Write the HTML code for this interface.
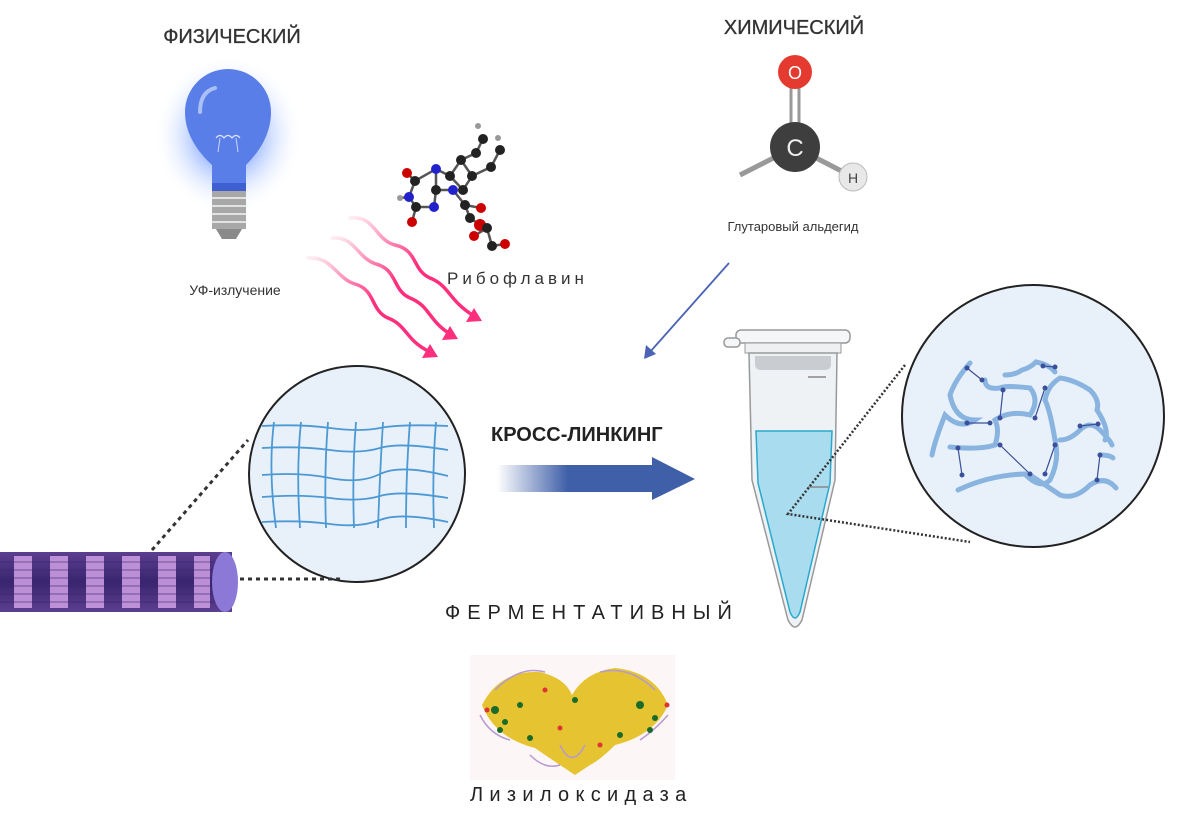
<!DOCTYPE html>
<html><head><meta charset="utf-8"><style>
html,body{margin:0;padding:0;background:#fff;}
svg{display:block;}
text{font-family:"Liberation Sans",sans-serif;}
</style></head><body>
<svg width="1191" height="818" viewBox="0 0 1191 818" xmlns="http://www.w3.org/2000/svg">
<defs>
<radialGradient id="glow" cx="0.5" cy="0.5" r="0.5">
<stop offset="0.4" stop-color="#8fb0ff" stop-opacity="0.8"/>
<stop offset="1" stop-color="#ffffff" stop-opacity="0"/>
</radialGradient>
<linearGradient id="arr" x1="0" x2="1" y1="0" y2="0">
<stop offset="0" stop-color="#3f5fa8" stop-opacity="0"/>
<stop offset="0.45" stop-color="#3f5fa8"/>
<stop offset="1" stop-color="#3f5fa8"/>
</linearGradient>
<linearGradient id="pink" x1="0" x2="1" y1="0" y2="1">
<stop offset="0" stop-color="#ff4d8f" stop-opacity="0.1"/>
<stop offset="0.5" stop-color="#ff2f7e"/>
<stop offset="1" stop-color="#ff2f7e"/>
</linearGradient>
<linearGradient id="fib" x1="0" x2="0" y1="0" y2="1">
<stop offset="0" stop-color="#5c3f8f"/><stop offset="0.5" stop-color="#3a2570"/><stop offset="1" stop-color="#5c3f8f"/>
</linearGradient>
</defs>

<!-- Titles -->
<text x="232" y="43" font-size="20" fill="#333" text-anchor="middle" stroke="#333" stroke-width="0.3">ФИЗИЧЕСКИЙ</text>
<text x="794" y="34" font-size="20" fill="#333" text-anchor="middle" stroke="#333" stroke-width="0.3">ХИМИЧЕСКИЙ</text>

<!-- bulb -->
<ellipse cx="228" cy="135" rx="75" ry="80" fill="url(#glow)"/>
<path d="M212,188 L212,165 Q185,140 185,112 A43,43 0 0 1 271,112 Q271,140 246,165 L246,188 Z" fill="#5a7ee8"/>
<rect x="212" y="183" width="34" height="8" fill="#3d5fd0"/>
<path d="M200,112 Q200,92 215,88" stroke="#a9bff5" stroke-width="4" fill="none" stroke-linecap="round"/>
<path d="M218,152 L220,138 M238,152 L236,138" stroke="#c8d4ff" stroke-width="1"/>
<path d="M216,138 q4,-5 8,0 q4,-5 8,0 q4,-5 8,0" stroke="#dde4ff" stroke-width="1.2" fill="none"/>
<rect x="212" y="191" width="34" height="38" fill="#a8a8a8"/>
<g stroke="#e2e2e2" stroke-width="2"><line x1="212" y1="198" x2="246" y2="198"/><line x1="212" y1="206" x2="246" y2="206"/><line x1="212" y1="214" x2="246" y2="214"/><line x1="212" y1="222" x2="246" y2="222"/></g>
<path d="M216,229 L242,229 L236,239 L222,239 Z" fill="#8a8a8a"/>
<text x="235" y="295" font-size="14" fill="#333" text-anchor="middle">УФ-излучение</text>

<!-- wavy arrows -->
<g fill="none" stroke="url(#pink)" stroke-width="3.5" stroke-linecap="round">
<path d="M350,218 C375,215 375,240 395,245 C418,250 412,270 430,278 C450,286 448,300 474,316"/>
<path d="M332,238 C355,236 357,258 376,264 C398,270 392,290 410,298 C430,306 428,320 450,334"/>
<path d="M308,258 C332,256 336,278 355,284 C376,290 370,310 388,318 C408,326 405,340 430,352"/>
</g>
<g fill="#ff2f7e">
<polygon points="482,321 466,322 474,308"/>
<polygon points="458,339 442,340 450,326"/>
<polygon points="438,357 422,358 430,344"/>
</g>

<!-- riboflavin molecule -->
<g stroke="#555" stroke-width="2.5" fill="none">
<path d="M407,173 L415,181 L436,169 L450,176 L461,160 L476,153 L483,139"/>
<path d="M461,160 L472,176 L491,167 L500,150"/>
<path d="M472,176 L463,190 L450,176"/>
<path d="M436,169 L436,190 L453,190"/>
<path d="M436,190 L434,207 L416,207 L409,197 L415,181"/>
<path d="M416,207 L412,222"/>
<path d="M409,197 L400,198"/>
<path d="M453,190 L465,205 L470,218 L480,225 L487,228 L474,236 M487,228 L492,246 L505,244 M465,205 L481,208"/>
</g>
<g>
<circle cx="407" cy="173" r="5" fill="#c00"/><circle cx="415" cy="181" r="5" fill="#222"/>
<circle cx="436" cy="169" r="5" fill="#2222cc"/><circle cx="450" cy="176" r="5" fill="#222"/>
<circle cx="461" cy="160" r="5" fill="#222"/><circle cx="476" cy="153" r="5" fill="#222"/>
<circle cx="483" cy="139" r="5" fill="#222"/><circle cx="491" cy="167" r="5" fill="#222"/>
<circle cx="500" cy="150" r="5" fill="#222"/><circle cx="472" cy="176" r="5" fill="#222"/>
<circle cx="463" cy="190" r="5" fill="#222"/><circle cx="436" cy="190" r="5" fill="#222"/>
<circle cx="453" cy="190" r="5" fill="#2222cc"/><circle cx="409" cy="197" r="5" fill="#2222cc"/>
<circle cx="434" cy="207" r="5" fill="#2222cc"/><circle cx="416" cy="207" r="5" fill="#222"/>
<circle cx="412" cy="222" r="5" fill="#c00"/><circle cx="465" cy="205" r="5" fill="#222"/>
<circle cx="481" cy="208" r="5" fill="#c00"/><circle cx="470" cy="218" r="5" fill="#222"/>
<circle cx="480" cy="225" r="6" fill="#c00"/><circle cx="487" cy="228" r="5" fill="#222"/>
<circle cx="474" cy="236" r="5" fill="#c00"/><circle cx="492" cy="246" r="5" fill="#222"/>
<circle cx="505" cy="244" r="5" fill="#c00"/><circle cx="478" cy="126" r="3" fill="#999"/>
<circle cx="498" cy="138" r="3" fill="#999"/><circle cx="400" cy="198" r="3" fill="#999"/>
</g>
<text x="447" y="284" font-size="17" fill="#333" letter-spacing="4">Рибофлавин</text>

<!-- aldehyde -->
<line x1="740" y1="175" x2="795" y2="147" stroke="#999" stroke-width="5"/>
<line x1="795" y1="147" x2="853" y2="177" stroke="#999" stroke-width="5"/>
<line x1="791" y1="85" x2="791" y2="130" stroke="#999" stroke-width="3"/>
<line x1="799" y1="85" x2="799" y2="130" stroke="#999" stroke-width="3"/>
<circle cx="795" cy="72" r="17" fill="#e53a2f"/>
<text x="795" y="79" font-size="18" fill="#fff" text-anchor="middle">O</text>
<circle cx="795" cy="147" r="25" fill="#3e3e3e"/>
<text x="795" y="156" font-size="24" fill="#eee" text-anchor="middle">C</text>
<circle cx="853" cy="177" r="14" fill="#e8e8e8" stroke="#bbb"/>
<text x="853" y="183" font-size="14" fill="#444" text-anchor="middle">H</text>
<text x="793" y="231" font-size="13" fill="#333" text-anchor="middle">Глутаровый альдегид</text>

<!-- blue thin arrow -->
<line x1="729" y1="263" x2="650" y2="352" stroke="#4a63b5" stroke-width="1.8"/>
<polygon points="644,359 646,345 656,354" fill="#4a63b5"/>

<!-- fiber -->
<rect x="0" y="552" width="232" height="60" fill="url(#fib)"/>
<g fill="#c99ae0" opacity="0.9">
<rect x="14" y="556" width="18" height="52"/><rect x="50" y="556" width="18" height="52"/><rect x="86" y="556" width="18" height="52"/><rect x="122" y="556" width="18" height="52"/><rect x="158" y="556" width="18" height="52"/><rect x="194" y="556" width="16" height="52"/>
</g>
<g stroke="#3a2570" stroke-width="1" opacity="0.6">
<line x1="0" y1="562" x2="220" y2="562"/><line x1="0" y1="570" x2="220" y2="570"/><line x1="0" y1="578" x2="220" y2="578"/><line x1="0" y1="586" x2="220" y2="586"/><line x1="0" y1="594" x2="220" y2="594"/><line x1="0" y1="602" x2="220" y2="602"/>
</g>
<ellipse cx="225" cy="582" rx="13" ry="30" fill="#8c78d6"/>
<line x1="152" y1="550" x2="248" y2="440" stroke="#333" stroke-width="3" stroke-dasharray="4,4"/>

<!-- left circle -->
<circle cx="357" cy="474" r="108" fill="#e8f1fa" stroke="#222" stroke-width="2"/>
<line x1="240" y1="579" x2="342" y2="579" stroke="#333" stroke-width="3" stroke-dasharray="4,4"/>
<g fill="none" stroke="#3c90cf" stroke-width="1.8" opacity="0.9">
<path d="M262,426 Q300,424 330,428 T380,428 T448,426"/>
<path d="M262,448 Q300,446 330,450 T380,448 T448,450"/>
<path d="M262,475 Q300,472 330,478 T380,474 T448,476"/>
<path d="M262,497 Q300,494 330,498 T380,496 T448,498"/>
<path d="M262,522 Q300,520 330,524 T380,520 T448,522"/>
<path d="M274,422 Q268,470 276,528"/>
<path d="M301,422 Q296,470 300,528"/>
<path d="M328,422 Q324,470 326,528"/>
<path d="M356,422 Q352,470 354,528"/>
<path d="M383,422 Q380,470 378,528"/>
<path d="M410,422 Q406,470 406,528"/>
<path d="M436,422 Q432,470 434,528"/>
</g>

<!-- cross-linking -->
<text x="491" y="441" font-size="20" font-weight="bold" fill="#222">КРОСС-ЛИНКИНГ</text>
<rect x="497" y="465" width="157" height="27" fill="url(#arr)"/>
<polygon points="652,457 695,479 652,500" fill="#3f5fa8"/>

<!-- tube -->
<rect x="736" y="330" width="114" height="13" rx="5" fill="#f4f6f8" stroke="#999" stroke-width="1.5"/>
<rect x="724" y="338" width="16" height="9" rx="4" fill="#f4f6f8" stroke="#999" stroke-width="1.5"/>
<rect x="745" y="343" width="96" height="10" fill="#eef0f2" stroke="#999" stroke-width="1"/>
<path d="M749,353 L837,353 L835,480 L802,620 Q795,634 788,620 L752,480 Z" fill="#eef2f5" stroke="#999" stroke-width="1.5"/>
<path d="M755,356 L831,356 L831,364 Q831,370 825,370 L761,370 Q755,370 755,364 Z" fill="#c9ccd0"/>
<path d="M756,431 L832,431 L830,483 L800,612 Q795,624 790,612 L758,483 Z" fill="#a9dcef" stroke="#2aa8cc" stroke-width="1.5"/>
<line x1="808" y1="377" x2="826" y2="377" stroke="#888" stroke-width="1.5"/>
<line x1="808" y1="487" x2="828" y2="487" stroke="#888" stroke-width="1.5"/>
<path d="M905,365 L788,514 L970,542" fill="none" stroke="#333" stroke-width="2.5" stroke-dasharray="2,2"/>

<!-- right circle -->
<circle cx="1033" cy="416" r="131" fill="#e8f1fa" stroke="#222" stroke-width="2"/>
<g fill="none" stroke="#8ab4e0" stroke-width="5" stroke-linecap="round">
<path d="M970,363 Q955,380 950,395 Q955,420 975,420 Q960,430 945,415 Q935,440 932,455"/>
<path d="M950,447 Q980,450 995,445 Q1000,430 995,420 Q1010,410 1030,415 Q1040,400 1030,388 Q1005,385 1000,388 Q985,390 985,380"/>
<path d="M958,490 Q990,475 1025,474 Q1040,490 1050,480 Q1060,460 1055,440 Q1050,410 1045,400 Q1048,385 1060,378 Q1075,380 1090,390 Q1100,400 1097,410 Q1110,430 1105,440"/>
<path d="M1060,440 Q1070,440 1080,430 Q1090,420 1100,430 Q1110,440 1112,445"/>
<path d="M1030,475 Q1050,488 1060,495 Q1075,500 1090,485 Q1105,475 1116,488"/>
<path d="M1005,375 Q1015,375 1022,370 Q1030,368 1036,362 Q1050,365 1055,372"/>
<path d="M1100,455 Q1110,455 1113,458"/>
</g>
<g stroke="#3b4f9a" stroke-width="1.2" fill="none">
<line x1="967" y1="368" x2="982" y2="380"/><line x1="967" y1="423" x2="990" y2="423"/>
<line x1="1003" y1="390" x2="1000" y2="418"/><line x1="1035" y1="418" x2="1045" y2="388"/>
<line x1="1000" y1="445" x2="1030" y2="474"/><line x1="1055" y1="445" x2="1045" y2="474"/>
<line x1="958" y1="448" x2="962" y2="475"/><line x1="1080" y1="426" x2="1098" y2="424"/>
<line x1="1100" y1="455" x2="1097" y2="480"/><line x1="1043" y1="366" x2="1055" y2="367"/>
</g>
<g fill="#3b4f9a">
<circle cx="967" cy="368" r="2.5"/><circle cx="982" cy="380" r="2.5"/><circle cx="967" cy="423" r="2.5"/><circle cx="990" cy="423" r="2.5"/>
<circle cx="1003" cy="390" r="2.5"/><circle cx="1000" cy="418" r="2.5"/><circle cx="1035" cy="418" r="2.5"/><circle cx="1045" cy="388" r="2.5"/>
<circle cx="1000" cy="445" r="2.5"/><circle cx="1030" cy="474" r="2.5"/><circle cx="1055" cy="445" r="2.5"/><circle cx="1045" cy="474" r="2.5"/>
<circle cx="958" cy="448" r="2.5"/><circle cx="962" cy="475" r="2.5"/><circle cx="1080" cy="426" r="2.5"/><circle cx="1098" cy="424" r="2.5"/>
<circle cx="1100" cy="455" r="2.5"/><circle cx="1097" cy="480" r="2.5"/><circle cx="1043" cy="366" r="2.5"/><circle cx="1055" cy="367" r="2.5"/>
</g>

<!-- enzymatic -->
<text x="445" y="619" font-size="20" fill="#222" letter-spacing="7">ФЕРМЕНТАТИВНЫЙ</text>
<rect x="470" y="655" width="205" height="125" fill="#fdf6f6"/>
<path d="M482,705 Q500,670 540,672 Q565,678 572,695 Q585,672 615,668 Q655,672 668,705 Q655,735 615,745 Q600,760 590,765 L575,775 L560,765 Q545,755 535,748 Q495,738 482,705 Z" fill="#e6c330"/>
<g stroke="#b69ad0" stroke-width="1.5" fill="none">
<path d="M495,690 Q520,665 545,672 M600,672 Q630,665 655,690 M560,745 Q572,770 585,745 M530,755 Q545,770 560,765 M480,715 Q490,735 510,740 M640,740 Q655,730 668,715"/>
</g>
<g fill="#1a6b2a">
<circle cx="495" cy="710" r="4"/><circle cx="505" cy="722" r="3"/><circle cx="520" cy="705" r="3"/><circle cx="640" cy="705" r="4"/><circle cx="655" cy="718" r="3"/><circle cx="620" cy="735" r="3"/><circle cx="530" cy="738" r="3"/><circle cx="575" cy="700" r="3"/><circle cx="500" cy="730" r="3"/><circle cx="650" cy="730" r="3"/>
</g>
<g fill="#d33">
<circle cx="487" cy="710" r="2.5"/><circle cx="667" cy="705" r="2.5"/><circle cx="560" cy="728" r="2.5"/><circle cx="600" cy="745" r="2.5"/><circle cx="545" cy="690" r="2.5"/>
</g>
<text x="470" y="801" font-size="20" fill="#222" letter-spacing="6.3">Лизилоксидаза</text>
</svg>
</body></html>
